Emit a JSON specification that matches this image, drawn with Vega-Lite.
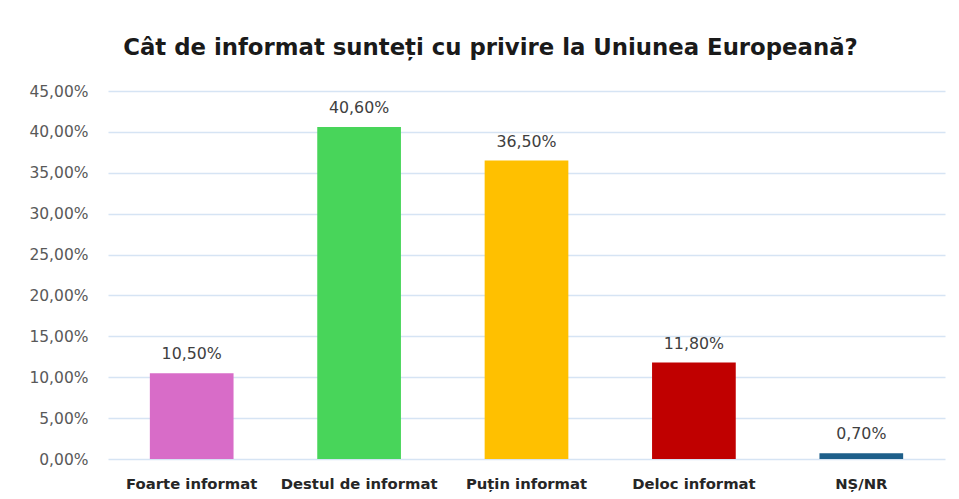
{
  "$schema": "https://vega.github.io/schema/vega-lite/v6.json",
  "autosize": "none",
  "width": 837,
  "height": 368,
  "padding": {"left": 108, "top": 91, "right": 14, "bottom": 40},
  "background": "white",
  "title": {
    "text": "Cât de informat sunteți cu privire la Uniunea Europeană?",
    "fontSize": 22.8,
    "font": "DejaVu Sans",
    "fontWeight": "bold",
    "color": "#1a1a1a",
    "anchor": "middle",
    "dx": -36,
    "offset": 24
  },
  "config": {
    "locale": {"number": {"decimal": ",", "thousands": ".", "grouping": [3], "currency": ["", " €"]}},
    "view": {"stroke": null},
    "font": "DejaVu Sans"
  },
  "data": {
    "values": [
      {"cat": "Foarte informat", "val": 0.105},
      {"cat": "Destul de informat", "val": 0.406},
      {"cat": "Puțin informat", "val": 0.365},
      {"cat": "Deloc informat", "val": 0.118},
      {"cat": "NȘ/NR", "val": 0.007}
    ]
  },
  "encoding": {
    "x": {
      "field": "cat", "type": "nominal", "sort": null,
      "scale": {"paddingInner": 0.5, "paddingOuter": 0.25},
      "axis": {"title": null, "labelAngle": 0, "labelFontWeight": "bold", "labelFontSize": 14.8, "labelColor": "#262626", "labelPadding": 17, "domain": false, "ticks": false}
    },
    "y": {
      "field": "val", "type": "quantitative",
      "scale": {"domain": [0, 0.45]},
      "axis": {"title": null, "format": ".2%", "values": [0, 0.05, 0.1, 0.15, 0.2, 0.25, 0.3, 0.35, 0.4, 0.45], "labelFontSize": 15.5, "labelColor": "#595959", "labelPadding": 20, "domain": false, "ticks": false, "gridColor": "#D6E4F4", "gridWidth": 1.5}
    }
  },
  "layer": [
    {
      "mark": {"type": "bar"},
      "encoding": {
        "color": {
          "field": "cat", "type": "nominal", "sort": null, "legend": null,
          "scale": {"domain": ["Foarte informat", "Destul de informat", "Puțin informat", "Deloc informat", "NȘ/NR"], "range": ["#D86CC8", "#48D55A", "#FFC000", "#C00000", "#1E5F8A"]}
        }
      }
    },
    {
      "mark": {"type": "text", "baseline": "bottom", "dy": -11, "fontSize": 15.8, "color": "#404040"},
      "encoding": {"text": {"field": "val", "type": "quantitative", "format": ".2%"}}
    }
  ]
}
